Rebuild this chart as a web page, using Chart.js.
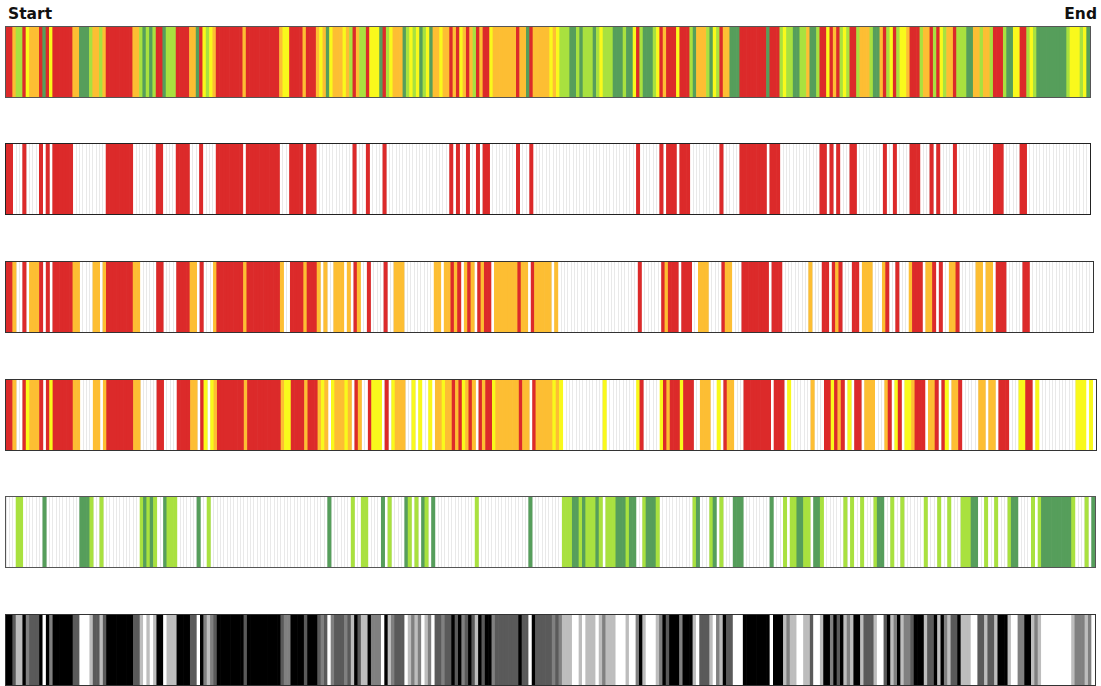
<!DOCTYPE html>
<html>
<head>
<meta charset="utf-8">
<script src="https://cdn.jsdelivr.net/npm/chart.js@4/dist/chart.umd.min.js"></script>
<style>
  html, body { margin: 0; padding: 0; background: #ffffff; }
  body { width: 1101px; height: 686px; position: relative; overflow: hidden; font-family: "DejaVu Sans", sans-serif; }
  .lbl { position: absolute; top: 5px; font-weight: bold; font-size: 15.5px; color: #111; line-height: 18px; }
  #start { left: 8px; }
  #end { right: 4px; }
  canvas { position: absolute; left: 5px; }
</style>
</head>
<body>
<div class="lbl" id="start">Start</div>
<div class="lbl" id="end">End</div>
<canvas id="s1" width="1086" height="72" style="top:26px"></canvas>
<canvas id="s2" width="1086" height="72" style="top:143px"></canvas>
<canvas id="s3" width="1089" height="72" style="top:261px"></canvas>
<canvas id="s4" width="1092" height="72" style="top:379px"></canvas>
<canvas id="s5" width="1091" height="72" style="top:496px"></canvas>
<canvas id="s6" width="1091" height="72" style="top:614px"></canvas>
<script>
// Class of every step in the sequence, first to last.
// R = red, O = orange, Y = yellow, L = light green, G = green
const cellClass = [
  'R','R','O','L','L','R','Y','O','O','O',
  'R','G','R','Y','R','R','R','R','R','R',
  'O','O','G','G','G','L','O','O','L','O',
  'R','R','R','R','R','R','R','R','O','O',
  'L','G','L','G','L','R','R','G','L','L',
  'L','R','R','R','R','O','O','G','R','Y',
  'L','Y','O','R','R','R','R','R','R','R',
  'R','O','R','R','R','R','R','R','R','R',
  'R','R','O','Y','Y','R','R','R','R','O',
  'R','R','R','O','Y','O','G','Y','O','O',
  'O','Y','O','L','R','O','L','L','R','Y',
  'Y','Y','G','R','L','Y','O','O','O','G',
  'L','Y','L','Y','G','L','Y','G','O','O',
  'Y','O','O','R','O','R','Y','O','R','O',
  'L','R','O','R','R','Y','O','O','O','O',
  'O','O','O','R','O','O','G','R','O','O',
  'O','O','O','Y','O','Y','L','L','L','G',
  'G','L','G','L','L','L','G','L','Y','L',
  'L','L','G','G','G','L','G','G','Y','R',
  'L','G','G','G','L','Y','R','O','R','R',
  'R','Y','R','R','R','L','G','O','O','O',
  'L','G','Y','L','R','O','O','G','G','G',
  'R','R','R','R','R','R','R','R','G','R',
  'R','R','L','Y','L','L','G','G','L','L',
  'O','G','G','L','R','R','Y','R','O','R',
  'L','Y','L','R','R','L','O','O','O','L',
  'G','G','O','R','L','Y','R','L','Y','Y',
  'O','R','R','R','L','O','O','R','L','R',
  'Y','L','O','O','R','L','L','L','G','G',
  'O','O','L','O','O','L','R','R','R','L',
  'G','G','Y','Y','R','R','L','Y','L','G',
  'G','G','G','G','G','G','G','G','L','Y',
  'Y','Y','L','Y','G'
];

// Step labels along the sequence
const steps = cellClass.map((_, i) => String(i + 1));

// Palettes
const classColors = { R: '#dc2a2a', O: '#fdbe33', Y: '#f9f91c', L: '#a9e13f', G: '#569e5b' };
const classGreys  = { R: '#000000', O: '#5a5a5a', Y: '#808080', L: '#bdbdbd', G: '#ffffff' };

// Which classes each strip shows, top to bottom
const stripClasses = [
  ['R', 'O', 'Y', 'L', 'G'],
  ['R'],
  ['R', 'O'],
  ['R', 'O', 'Y'],
  ['L', 'G'],
  ['R', 'O', 'Y', 'L', 'G']
];
const stripPalettes = [classColors, classColors, classColors, classColors, classColors, classGreys];
const stripFrames = ['#555555', '#222222', '#333333', '#333333', '#555555', '#333333'];

// Outline around the plotting area
const framePlugin = {
  id: 'frame',
  afterDatasetsDraw(chart, args, opts) {
    const a = chart.chartArea, c = chart.ctx;
    c.save();
    c.strokeStyle = opts.color;
    c.lineWidth = 1;
    c.strokeRect(Math.round(a.left) - 0.5, Math.round(a.top) - 0.5,
                 Math.round(a.right - a.left) + 1, Math.round(a.bottom - a.top) + 1);
    c.restore();
  }
};

stripClasses.forEach((shown, k) => {
  const pal = stripPalettes[k];
  const values = cellClass.map(c => shown.includes(c) ? 1 : null);
  const colors = cellClass.map(c => pal[c]);
  new Chart(document.getElementById('s' + (k + 1)), {
    type: 'bar',
    data: {
      labels: steps,
      datasets: [{
        data: values,
        backgroundColor: colors,
        borderWidth: 0,
        barPercentage: 1,
        categoryPercentage: 1
      }]
    },
    options: {
      responsive: false,
      animation: false,
      events: [],
      layout: { padding: 1 },
      plugins: {
        legend: { display: false },
        tooltip: { enabled: false },
        frame: { color: stripFrames[k] }
      },
      scales: {
        x: {
          display: true,
          offset: true,
          grid: { color: '#e9e9e9', lineWidth: 1, drawTicks: false, offset: true },
          ticks: { display: false },
          border: { display: false }
        },
        y: { display: false, min: 0, max: 1 }
      }
    },
    plugins: [framePlugin]
  });
});
</script>
</body>
</html>
